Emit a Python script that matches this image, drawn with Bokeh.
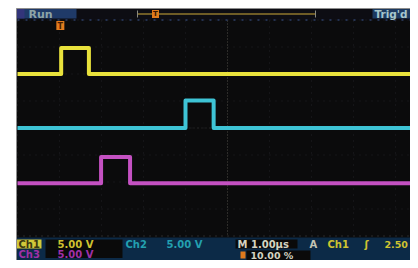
from bokeh.plotting import figure
from bokeh.models import Range1d
from bokeh.core.properties import value
from bokeh.embed import file_html
from bokeh.resources import INLINE

# ---------------- data ----------------
time_per_div_us = 1.0          # M 1.00 us
volts_per_div = 5.0            # 5.00 V on each channel
channels = ["Ch1", "Ch2", "Ch3"]
trace_colors = ["#e9e23c", "#3ec4d6", "#c451c2"]
offsets_div = [2.0, 0.0, -2.05]            # channel ground positions (divisions)
pulse_rise_us = [-3.96, -1.00, -3.01]
pulse_fall_us = [-3.30, -0.33, -2.32]
pulse_high_v = [4.8, 5.1, 4.9]
record_start_us = -5.0
record_end_us = 5.0

h_divs = [-5, -4, -3, -2, -1, 0, 1, 2, 3, 4, 5]
v_divs = [-4, -3, -2, -1, 0, 1, 2, 3, 4]

ch_volts_labels = ["5.00 V", "5.00 V", "5.00 V"]
timebase_label = "M 1.00µs"
trigger_source = "Ch1"
trigger_level_label = "2.50"
trigger_pos_label = "10.00 %"
trigger_time_us = -3.98

# ---------------- geometry (picture pixels) ----------------
W, H = 410, 260
PX_DIV_X, PX_DIV_Y = 42.0, 27.0
CX, CY = 227.0, 127.5          # graticule centre


def X(px):
    return (px - CX) / PX_DIV_X * time_per_div_us


def Y(py):
    return (CY - py) / PX_DIV_Y


p = figure(width=W, height=H, output_backend="svg", toolbar_location=None,
           x_range=Range1d(X(0), X(W)), y_range=Range1d(Y(H), Y(0)),
           min_border=0)
p.axis.visible = False
p.grid.visible = False
p.outline_line_color = None
p.background_fill_color = "white"
p.border_fill_color = "white"

FONT = value("DejaVu Sans")

# screen body
p.quad(left=[X(16)], right=[X(430)], top=[Y(8)], bottom=[Y(280)],
       fill_color="#0b0b0c", line_color="#8c8c8c", line_width=1)
# header strip
p.quad(left=[X(16.5)], right=[X(430)], top=[Y(8.5)], bottom=[Y(19.5)],
       fill_color="#0d0d13", line_color=None)
# status area
p.quad(left=[X(16.5)], right=[X(430)], top=[Y(237)], bottom=[Y(280)],
       fill_color="#0c2a47", line_color=None)

# graticule
p.segment(x0=[X(17)] * len(v_divs), x1=[X(430)] * len(v_divs),
          y0=v_divs, y1=v_divs, line_color="#202024", line_dash="1 5", line_width=1)
p.segment(x0=h_divs, x1=h_divs, y0=[Y(20)] * len(h_divs), y1=[Y(236)] * len(h_divs),
          line_color="#202024", line_dash="1 5", line_width=1)
p.segment(x0=[0], x1=[0], y0=[Y(20)], y1=[Y(236)], line_color="#48463e",
          line_dash="1 2", line_width=1)
p.segment(x0=[X(17)], x1=[X(430)], y0=[0], y1=[0], line_color="#303030",
          line_dash="1 3", line_width=1)
# top / bottom graticule edges
p.segment(x0=[X(17)], x1=[X(430)], y0=[4], y1=[4], line_color="#2c3e66",
          line_dash="2 6", line_width=1.5)
p.segment(x0=[X(17)], x1=[X(430)], y0=[-4], y1=[-4], line_color="#3a3a3a",
          line_dash="1 5", line_width=1)

# traces
for ch, col, off, tr, tf, hv in zip(channels, trace_colors, offsets_div,
                                    pulse_rise_us, pulse_fall_us, pulse_high_v):
    ts = [record_start_us, tr, tr, tf, tf, record_end_us]
    vs = [0, 0, hv, hv, 0, 0]
    ys = [off + v / volts_per_div for v in vs]
    p.line(ts, ys, line_color=col, line_width=4, line_join="round")

# ---- header ----
p.quad(left=[X(16.5)], right=[X(76)], top=[Y(8.5)], bottom=[Y(18)],
       fill_color="#1f3a68", line_color=None)
p.quad(left=[X(16.5)], right=[X(24)], top=[Y(8.5)], bottom=[Y(18)],
       fill_color="#33357a", line_color=None)
p.text(x=[X(28)], y=[Y(13.5)], text=["Run"], text_font=FONT, text_font_style="bold",
       text_font_size="11px", text_color="#8ea4a6", text_baseline="middle", text_align="left")
p.quad(left=[X(372)], right=[X(430)], top=[Y(8.5)], bottom=[Y(18)],
       fill_color="#1c3a60", line_color=None)
p.text(x=[X(374)], y=[Y(13.5)], text=["Trig'd"], text_font=FONT, text_font_style="bold",
       text_font_size="10.5px", text_color="#a6c6cc", text_baseline="middle", text_align="left")
# record bar
p.segment(x0=[X(137)], x1=[X(315)], y0=[Y(13.5)], y1=[Y(13.5)],
          line_color="#6e5c26", line_width=2)
p.segment(x0=[X(137), X(315)], x1=[X(137), X(315)], y0=[Y(10)] * 2, y1=[Y(17)] * 2,
          line_color="#8a8a80", line_width=1)
p.rect(x=[X(155)], y=[Y(13.5)], width=7, height=8, width_units="screen",
       height_units="screen", fill_color="#e07a1c", line_color=None)
p.text(x=[X(155)], y=[Y(13.5)], text=["T"], text_font=FONT, text_font_style="bold",
       text_font_size="7px", text_color="#3a1800", text_baseline="middle", text_align="center")

# trigger-position marker on graticule
p.rect(x=[trigger_time_us], y=[Y(25)], width=8, height=9, width_units="screen",
       height_units="screen", fill_color="#e27c1e", line_color=None)
p.text(x=[trigger_time_us], y=[Y(25.5)], text=["T"], text_font=FONT, text_font_style="bold",
       text_font_size="8px", text_color="#4a2000", text_baseline="middle", text_align="center")

# ---- status area ----
# black value boxes
p.quad(left=[X(45), X(235), X(246)], right=[X(122), X(297), X(310)],
       top=[Y(239), Y(239), Y(250)], bottom=[Y(257.5), Y(248), Y(280)],
       fill_color="#0a0a0a", line_color=None)
# Ch1 yellow box
p.quad(left=[X(16.5)], right=[X(41)], top=[Y(239)], bottom=[Y(248)],
       fill_color="#d2c83a", line_color=None)


def status_text(px, py, txt, color, size="10px"):
    p.text(x=[X(px)], y=[Y(py)], text=[txt], text_font=FONT, text_font_style="bold",
           text_font_size=size, text_color=color, text_baseline="middle",
           text_align="left")


status_text(18, 243.5, channels[0], "#3a3610")
status_text(57, 243.5, ch_volts_labels[0], "#cfc330")
status_text(125, 243.5, channels[1], "#23a0b0")
status_text(166, 243.5, ch_volts_labels[1], "#23a0b0")
status_text(18, 253.5, channels[2], "#a030a8")
status_text(57, 253.5, ch_volts_labels[2], "#a030a8")
status_text(237, 243.5, timebase_label, "#d4d4c2")
status_text(309, 243.5, "A", "#c4c4b4")
status_text(327, 243.5, trigger_source, "#cfc330")
status_text(364, 243.5, "ʃ", "#cfc330")
status_text(384, 243.5, trigger_level_label, "#cfc330", "9.5px")
status_text(250, 254.5, trigger_pos_label, "#d4d4c2", "9.5px")
p.rect(x=[X(242.5)], y=[Y(254.5)], width=5, height=7, width_units="screen",
       height_units="screen", fill_color="#e07a1c", line_color=None)

open("out.html", "w").write(file_html(p, INLINE))
